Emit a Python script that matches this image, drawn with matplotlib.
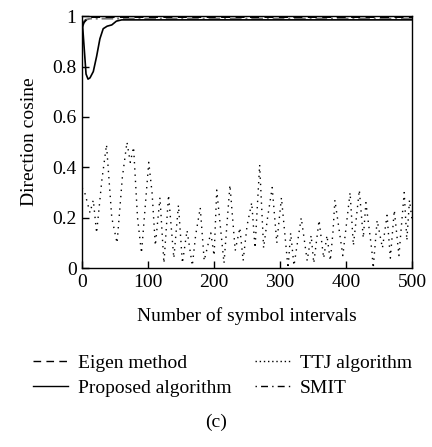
import matplotlib.pyplot as plt
from matplotlib.lines import Line2D

# Eigen method (dashed)
eigen_x = [0, 3, 8, 15, 500]
eigen_y = [0.955, 0.975, 0.99, 0.996, 0.996]

# Proposed algorithm (solid)
prop_x = [0, 3, 6, 9, 12, 17, 22, 27, 32, 38, 45, 52, 60, 500]
prop_y = [0.99, 0.88, 0.77, 0.75, 0.755, 0.78, 0.84, 0.91, 0.95, 0.96, 0.965, 0.98, 0.985, 0.985]

# SMIT (dash-dot)
smit_x = [0, 5, 12, 500]
smit_y = [0.97, 0.985, 0.99, 0.99]

# TTJ algorithm (dotted), peaks and troughs
ttj_x = [0, 4, 12, 17, 22, 30, 37, 45, 53, 61,
         68, 73, 78, 84, 90, 101, 106, 111, 118, 124,
         131, 139, 146, 152, 159, 167, 172, 179, 185, 195,
         200, 204, 215, 224, 232, 239, 244, 250, 257, 262,
         269, 275, 281, 288, 295, 302, 312, 316, 321, 332,
         341, 347, 351, 359, 366, 371, 376, 380, 383, 395,
         406, 411, 420, 426, 430, 439, 441, 447, 455, 462,
         467, 473, 480, 488, 492, 496, 500]
ttj_y = [0.32, 0.30, 0.22, 0.27, 0.14, 0.35, 0.49, 0.20, 0.10, 0.36,
         0.50, 0.42, 0.48, 0.20, 0.06, 0.42, 0.30, 0.09, 0.28, 0.02,
         0.29, 0.04, 0.25, 0.02, 0.15, 0.01, 0.13, 0.24, 0.03, 0.14,
         0.05, 0.31, 0.02, 0.33, 0.07, 0.16, 0.03, 0.17, 0.26, 0.08,
         0.41, 0.08, 0.20, 0.32, 0.10, 0.28, 0.00, 0.14, 0.01, 0.20,
         0.03, 0.13, 0.02, 0.19, 0.04, 0.13, 0.03, 0.14, 0.27, 0.05,
         0.30, 0.09, 0.31, 0.12, 0.26, 0.07, 0.00, 0.19, 0.08, 0.21,
         0.04, 0.23, 0.05, 0.30, 0.11, 0.27, 0.19]

plt.rcParams['font.family'] = ['Liberation Serif', 'DejaVu Serif']
plt.rcParams['font.size'] = 14

fig = plt.figure(figsize=(4.32, 4.47), dpi=100)
ax = fig.add_axes([0.190, 0.400, 0.764, 0.564])

ax.plot(ttj_x, ttj_y, color='k', lw=1.0, linestyle=(0, (1, 3.5)))
ax.plot(smit_x, smit_y, color='0.45', lw=1.4, linestyle=(0, (6, 2, 1, 2)))
ax.plot(eigen_x, eigen_y, color='k', lw=1.3, linestyle=(0, (5, 3)))
ax.plot(prop_x, prop_y, color='k', lw=1.2)

ax.set_xlim(0, 500)
ax.set_ylim(0, 1)
ax.set_xticks([0, 100, 200, 300, 400, 500])
ax.set_yticks([0, 0.2, 0.4, 0.6, 0.8, 1])
ax.set_yticklabels(['0', '0.2', '0.4', '0.6', '0.8', '1'])
ax.tick_params(direction='in', length=5, width=1, pad=4)
for s in ax.spines.values():
    s.set_linewidth(1.0)
ax.set_xlabel('Number of symbol intervals', labelpad=12)
ax.set_ylabel('Direction cosine', labelpad=10)

h_eigen = Line2D([], [], color='k', lw=1.0, linestyle=(0, (5.5, 3.8)))
h_prop = Line2D([], [], color='k', lw=1.0)
h_ttj = Line2D([], [], color='k', lw=1.0, linestyle=(0, (1, 2)))
h_smit = Line2D([], [], color='k', lw=1.0, linestyle=(0, (1, 3, 5, 3)))

leg1 = fig.legend([h_eigen, h_prop], ['Eigen method', 'Proposed algorithm'],
                  frameon=False, loc='upper left', bbox_to_anchor=(0.076, 0.208),
                  handlelength=1.8, handletextpad=0.5, labelspacing=0.4,
                  borderpad=0, borderaxespad=0)
leg2 = fig.legend([h_ttj, h_smit], ['TTJ algorithm', 'SMIT'],
                  frameon=False, loc='upper left', bbox_to_anchor=(0.590, 0.208),
                  handlelength=1.8, handletextpad=0.5, labelspacing=0.4,
                  borderpad=0, borderaxespad=0)

fig.text(0.5, 0.056, '(c)', ha='center', va='center')

fig.savefig('out.png', dpi=100)
